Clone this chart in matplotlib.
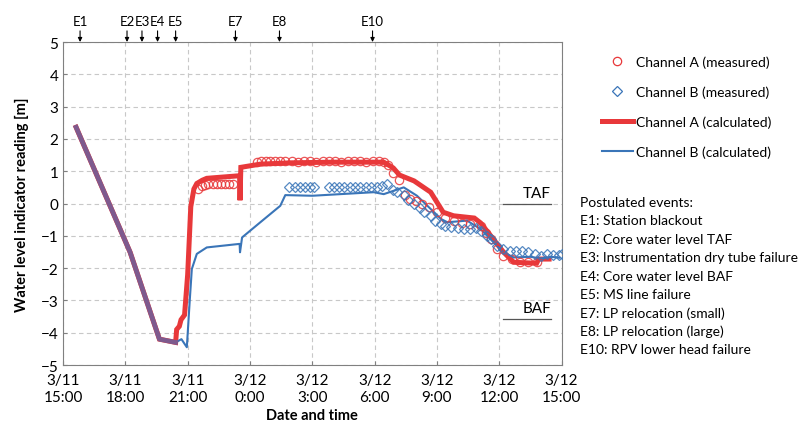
import matplotlib
matplotlib.use("Agg")
import matplotlib.pyplot as plt
from matplotlib.lines import Line2D

plt.rcParams["font.family"] = ["Lato", "DejaVu Sans"]

# time axis: hours counted from 3/11 0:00
tick_hours = [15, 18, 21, 24, 27, 30, 33, 36, 39]
tick_labels = ["3/11\n15:00", "3/11\n18:00", "3/11\n21:00", "3/12\n0:00", "3/12\n3:00",
               "3/12\n6:00", "3/12\n9:00", "3/12\n12:00", "3/12\n15:00"]

# postulated events
event_names = ["E1", "E2", "E3", "E4", "E5", "E7", "E8", "E10"]
event_hours = [15.82, 18.08, 18.8, 19.55, 20.42, 23.3, 25.42, 29.9]
event_desc = ["Postulated events:",
              "E1: Station blackout",
              "E2: Core water level TAF",
              "E3: Instrumentation dry tube failure",
              "E4: Core water level BAF",
              "E5: MS line failure",
              "E7: LP relocation (small)",
              "E8: LP relocation (large)",
              "E10: RPV lower head failure"]

# Channel A (calculated)
calc_a_t = [15.63, 18.23, 19.64, 20.42, 20.47, 20.6, 20.68, 20.85, 21.0, 21.15, 21.3, 21.44,
            21.7, 21.92, 23.5, 23.52, 23.56, 24.5, 26.0, 28.0, 30.44, 30.9, 31.2, 31.9, 32.7,
            33.3, 33.8, 34.8, 35.1, 36.2, 36.7, 37.8, 37.9, 38.4]
calc_a_v = [2.36, -1.51, -4.2, -4.3, -3.9, -3.8, -3.6, -3.45, -2.2, -0.1, 0.45, 0.62,
            0.72, 0.78, 0.86, 0.1, 1.12, 1.22, 1.26, 1.28, 1.28, 1.1, 0.88, 0.7, 0.35,
            -0.27, -0.38, -0.45, -0.6, -1.5, -1.82, -1.85, -1.72, -1.72]
shared_pts = 4   # first points identical for both channels

# Channel B (calculated)
calc_b_t = [15.63, 18.23, 19.64, 20.42, 20.7, 20.96, 21.1, 21.2, 21.44, 21.92, 23.5, 23.52,
            23.62, 24.5, 25.46, 25.7, 27.0, 29.96, 30.44, 31.4, 32.04, 33.2, 33.5, 34.45,
            35.1, 36.2, 36.7, 37.5, 38.0, 38.5, 38.9]
calc_b_v = [2.36, -1.51, -4.2, -4.3, -4.2, -4.45, -3.0, -2.03, -1.56, -1.36, -1.25, -1.51,
            -1.05, -0.58, -0.07, 0.26, 0.24, 0.35, 0.29, 0.5, 0.24, -0.48, -0.58, -0.53,
            -0.79, -1.51, -1.67, -1.65, -1.7, -1.65, -1.68]

# Channel A (measured)
meas_a_t = [21.52, 21.68, 21.85, 22.0, 22.2, 22.4, 22.6, 22.8, 23.0, 23.2,
            24.35, 24.55, 24.75, 24.95, 25.2, 25.45, 25.7, 26.0, 26.3, 26.6, 26.9, 27.2,
            27.5, 27.8, 28.1, 28.4, 28.7, 29.0, 29.3, 29.6, 29.9, 30.2, 30.45, 30.65,
            30.9, 31.15, 31.45, 31.7, 32.0, 32.3, 32.6, 33.0, 33.4, 33.8, 34.2, 34.6,
            35.1, 35.35, 35.6, 35.9, 36.2, 36.6, 37.0, 37.4, 37.8]
meas_a_v = [0.45, 0.53, 0.58, 0.6, 0.6, 0.6, 0.6, 0.6, 0.6, 0.6,
            1.3, 1.33, 1.33, 1.33, 1.33, 1.33, 1.33, 1.33, 1.3, 1.33, 1.33, 1.3,
            1.33, 1.33, 1.33, 1.3, 1.33, 1.33, 1.33, 1.3, 1.33, 1.33, 1.3, 1.2,
            0.95, 0.72, 0.25, 0.15, 0.08, -0.02, -0.1, -0.27, -0.45, -0.53, -0.6, -0.63,
            -0.69, -0.9, -1.1, -1.41, -1.62, -1.72, -1.8, -1.82, -1.82]

# Channel B (measured)
meas_b_t = [25.9, 26.15, 26.4, 26.65, 26.9, 27.1,
            27.8, 28.05, 28.3, 28.55, 28.8, 29.05, 29.3, 29.6, 29.85, 30.1, 30.35, 30.6,
            30.9, 31.1, 31.4, 31.6, 31.9, 32.2, 32.4, 32.7, 32.9, 33.2, 33.4, 33.7, 34.0,
            34.3, 34.6, 34.9, 35.1, 35.4, 35.6, 35.9, 36.2, 36.5, 36.8, 37.1, 37.4, 37.7,
            38.0, 38.3, 38.6, 38.9, 39.0]
meas_b_v = [0.52, 0.52, 0.52, 0.52, 0.52, 0.52,
            0.52, 0.52, 0.52, 0.52, 0.52, 0.52, 0.52, 0.5, 0.52, 0.5, 0.55, 0.6,
            0.42, 0.35, 0.25, 0.1, -0.02, -0.15, -0.27, -0.4, -0.53, -0.62, -0.69, -0.74, -0.76,
            -0.79, -0.79, -0.75, -0.85, -1.0, -1.1, -1.31, -1.42, -1.46, -1.46, -1.46, -1.5, -1.55,
            -1.62, -1.56, -1.58, -1.6, -1.56]

# reference levels
level_names = ["TAF", "BAF"]
level_values = [0.0, -3.58]
level_span = [36.2, 38.5]

RED = "#e8383a"
BLUE = "#3a75b8"
PURPLE = "#7e5a8e"

fig = plt.figure(figsize=(8.02, 4.31), dpi=100)
ax = fig.add_axes([0.0786, 0.1508, 0.6216, 0.7494])

ax.plot(calc_a_t, calc_a_v, color=RED, lw=3.6, solid_joinstyle="miter", zorder=3)
ax.plot(calc_b_t, calc_b_v, color=BLUE, lw=1.5, zorder=4)
ax.plot(calc_a_t[:shared_pts], calc_a_v[:shared_pts], color=PURPLE, lw=3.4, zorder=5)
ax.plot(meas_a_t, meas_a_v, ls="none", marker="o", ms=6, mfc="none", mec=RED, mew=0.9,
        alpha=0.85, zorder=6)
ax.plot(meas_b_t, meas_b_v, ls="none", marker="D", ms=5.5, mfc="none", mec=BLUE, mew=0.9,
        alpha=0.85, zorder=6)

for name, val in zip(level_names, level_values):
    ax.plot(level_span, [val, val], color="#555555", lw=0.9, zorder=2)
    ax.text(level_span[1], val + 0.12, name, ha="right", va="bottom", fontsize=11)

ax.set_xlim(15, 39)
ax.set_ylim(-5, 5)
ax.set_xticks(tick_hours)
ax.set_xticklabels(tick_labels, fontsize=11)
ax.set_yticks(range(-5, 6))
ax.tick_params(axis="y", labelsize=11, direction="in", length=3, color="#808080")
ax.tick_params(axis="x", direction="in", length=3, color="#808080", pad=6)
ax.grid(True, ls=(0, (4, 3)), color="#c8c8c8", lw=0.8)
for sp in ax.spines.values():
    sp.set_color("#808080")
ax.set_xlabel("Date and time", fontsize=10.5, fontweight="bold", labelpad=3)
ax.set_ylabel("Water level indicator reading [m]", fontsize=10.5, fontweight="bold", labelpad=8)

for name, h in zip(event_names, event_hours):
    ax.annotate(name, xy=(h, 1.0), xycoords=("data", "axes fraction"),
                xytext=(0, 11), textcoords="offset points", ha="center", va="bottom",
                fontsize=9.5, annotation_clip=False,
                arrowprops=dict(arrowstyle="-|>", color="black", lw=0.8,
                                mutation_scale=6, shrinkA=1, shrinkB=0))

handles = [
    Line2D([], [], ls="none", marker="o", ms=6, mfc="none", mec=RED, mew=0.9),
    Line2D([], [], ls="none", marker="D", ms=5.5, mfc="none", mec=BLUE, mew=0.9),
    Line2D([], [], color=RED, lw=3.6),
    Line2D([], [], color=BLUE, lw=1.5),
]
labels = ["Channel A (measured)", "Channel B (measured)",
          "Channel A (calculated)", "Channel B (calculated)"]
fig.legend(handles, labels, loc="upper left", bbox_to_anchor=(0.75, 0.869),
           frameon=False, fontsize=10, handlelength=2.3, handletextpad=0.15,
           labelspacing=1.25, borderpad=0, borderaxespad=0)

for i, line in enumerate(event_desc):
    fig.text(0.723, 1 - (203 + i * 18.4) / 431, line, fontsize=10, va="center", ha="left")

fig.savefig("out.png", dpi=100)
